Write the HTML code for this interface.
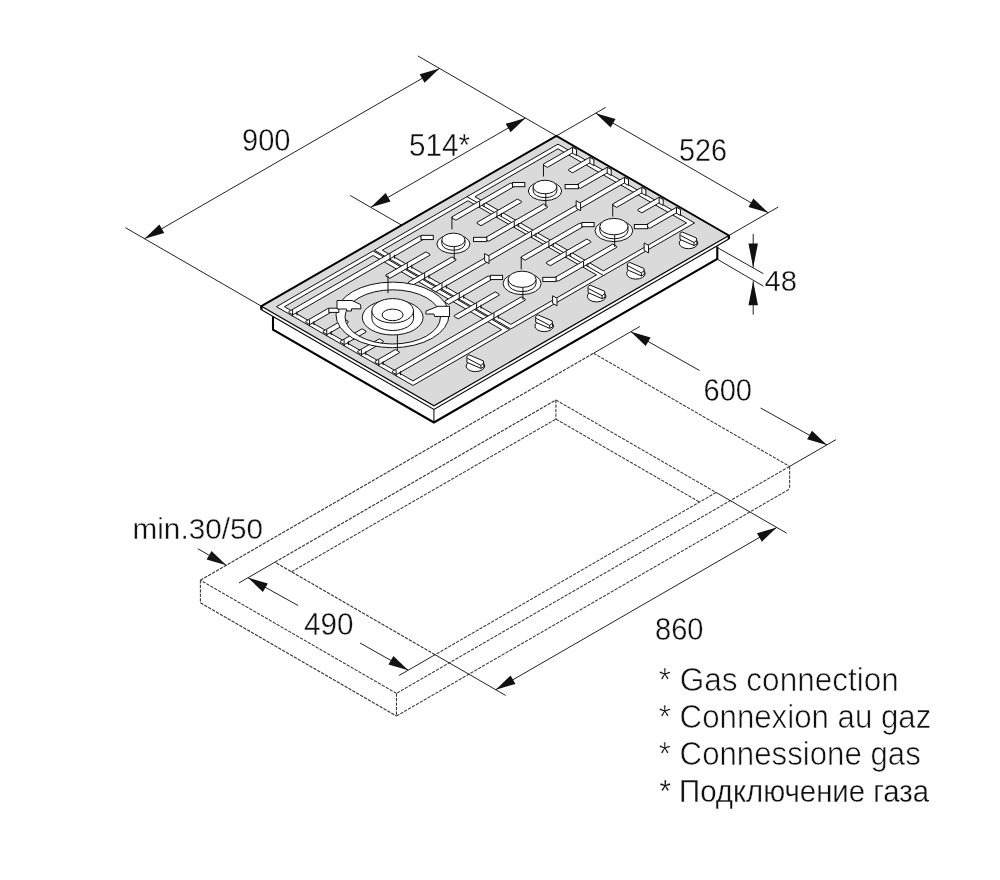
<!DOCTYPE html>
<html><head><meta charset="utf-8"><style>
html,body{margin:0;padding:0;background:#fff;width:1000px;height:880px;overflow:hidden}
svg{display:block;will-change:transform}
text{font-family:"Liberation Sans",sans-serif;fill:#111}
.lg{position:absolute;left:659px;font-family:"Liberation Sans",sans-serif;font-size:29px;color:#1a1a1a;white-space:nowrap}
</style></head><body>
<svg width="1000" height="880" viewBox="0 0 1000 880">
<line x1="200.4" y1="580.2" x2="593.58" y2="353.2" stroke="#333" stroke-width="1.05" stroke-linecap="butt" stroke-dasharray="3.3,1.2"/>
<line x1="593.58" y1="353.2" x2="789.64" y2="466.4" stroke="#333" stroke-width="1.05" stroke-linecap="butt" stroke-dasharray="3.3,1.2"/>
<line x1="789.64" y1="466.4" x2="396.47" y2="693.4" stroke="#333" stroke-width="1.05" stroke-linecap="butt" stroke-dasharray="3.3,1.2"/>
<line x1="396.47" y1="693.4" x2="200.4" y2="580.2" stroke="#333" stroke-width="1.05" stroke-linecap="butt" stroke-dasharray="3.3,1.2"/>
<line x1="200.4" y1="580.2" x2="200.4" y2="602.8" stroke="#333" stroke-width="1.05" stroke-linecap="butt" stroke-dasharray="3.3,1.2"/>
<line x1="396.47" y1="693.4" x2="396.47" y2="716" stroke="#333" stroke-width="1.05" stroke-linecap="butt" stroke-dasharray="3.3,1.2"/>
<line x1="789.64" y1="466.4" x2="789.64" y2="489" stroke="#333" stroke-width="1.05" stroke-linecap="butt" stroke-dasharray="3.3,1.2"/>
<line x1="200.4" y1="602.8" x2="396.47" y2="716" stroke="#333" stroke-width="1.05" stroke-linecap="butt" stroke-dasharray="3.3,1.2"/>
<line x1="396.47" y1="716" x2="789.64" y2="489" stroke="#333" stroke-width="1.05" stroke-linecap="butt" stroke-dasharray="3.3,1.2"/>
<line x1="274.88" y1="562.2" x2="555.9" y2="399.95" stroke="#333" stroke-width="1.05" stroke-linecap="butt" stroke-dasharray="3.3,1.2"/>
<line x1="555.9" y1="399.95" x2="716.12" y2="492.45" stroke="#333" stroke-width="1.05" stroke-linecap="butt" stroke-dasharray="3.3,1.2"/>
<line x1="716.12" y1="492.45" x2="435.09" y2="654.7" stroke="#333" stroke-width="1.05" stroke-linecap="butt" stroke-dasharray="3.3,1.2"/>
<line x1="435.09" y1="654.7" x2="274.88" y2="562.2" stroke="#333" stroke-width="1.05" stroke-linecap="butt" stroke-dasharray="3.3,1.2"/>
<line x1="555.9" y1="399.95" x2="555.9" y2="419.15" stroke="#333" stroke-width="1.05" stroke-linecap="butt" stroke-dasharray="3.3,1.2"/>
<line x1="291.51" y1="571.8" x2="555.9" y2="419.15" stroke="#333" stroke-width="1.05" stroke-linecap="butt" stroke-dasharray="3.3,1.2"/>
<line x1="555.9" y1="419.15" x2="699.49" y2="502.05" stroke="#333" stroke-width="1.05" stroke-linecap="butt" stroke-dasharray="3.3,1.2"/>
<line x1="593.58" y1="353.2" x2="639.91" y2="326.45" stroke="#222" stroke-width="1" stroke-linecap="butt"/>
<line x1="789.64" y1="466.4" x2="835.98" y2="439.65" stroke="#222" stroke-width="1" stroke-linecap="butt"/>
<line x1="630.81" y1="331.7" x2="699.5" y2="370.5" stroke="#222" stroke-width="1" stroke-linecap="butt"/>
<line x1="760.6" y1="408" x2="826.88" y2="444.9" stroke="#222" stroke-width="1" stroke-linecap="butt"/>
<polygon points="630.81,331.7 645.69,345.94 650.59,337.46" fill="#111"/>
<polygon points="826.88,444.9 812.01,430.66 807.11,439.14" fill="#111"/>
<text x="703.5" y="400.9" font-size="31" text-anchor="start" font-weight="normal" textLength="48.5" lengthAdjust="spacingAndGlyphs" stroke="#fff" stroke-width="0.35">600</text>
<line x1="274.88" y1="562.2" x2="238.94" y2="582.95" stroke="#222" stroke-width="1" stroke-linecap="butt"/>
<line x1="435.09" y1="654.7" x2="399.15" y2="675.45" stroke="#222" stroke-width="1" stroke-linecap="butt"/>
<line x1="248.03" y1="577.7" x2="298" y2="605.5" stroke="#222" stroke-width="1" stroke-linecap="butt"/>
<line x1="360" y1="643" x2="408.25" y2="670.2" stroke="#222" stroke-width="1" stroke-linecap="butt"/>
<polygon points="248.03,577.7 262.9,591.94 267.8,583.46" fill="#111"/>
<polygon points="408.25,670.2 393.38,655.96 388.48,664.44" fill="#111"/>
<text x="304" y="635.1" font-size="31" text-anchor="start" font-weight="normal" textLength="49.5" lengthAdjust="spacingAndGlyphs" stroke="#fff" stroke-width="0.35">490</text>
<line x1="716.12" y1="492.45" x2="786.7" y2="533.2" stroke="#222" stroke-width="1" stroke-linecap="butt"/>
<line x1="435.09" y1="654.7" x2="505.67" y2="695.45" stroke="#222" stroke-width="1" stroke-linecap="butt"/>
<line x1="495.71" y1="689.7" x2="776.74" y2="527.45" stroke="#222" stroke-width="1" stroke-linecap="butt"/>
<polygon points="495.71,689.7 515.49,683.94 510.59,675.46" fill="#111"/>
<polygon points="776.74,527.45 756.97,533.21 761.87,541.69" fill="#111"/>
<text x="655" y="639.5" font-size="31" text-anchor="start" font-weight="normal" textLength="48.5" lengthAdjust="spacingAndGlyphs" stroke="#fff" stroke-width="0.35">860</text>
<polygon points="226.38,565.2 211.51,550.96 206.61,559.44" fill="#111"/>
<line x1="226.38" y1="565.2" x2="197.8" y2="548.7" stroke="#222" stroke-width="1" stroke-linecap="butt"/>
<text x="132.5" y="538.8" font-size="29.5" text-anchor="start" font-weight="normal" textLength="130.5" lengthAdjust="spacingAndGlyphs" stroke="#fff" stroke-width="0.35">min.30/50</text>
<line x1="261.4" y1="306.2" x2="125.43" y2="227.7" stroke="#222" stroke-width="1" stroke-linecap="butt"/>
<line x1="556.37" y1="135.9" x2="417.8" y2="55.9" stroke="#222" stroke-width="1" stroke-linecap="butt"/>
<line x1="144.49" y1="238.7" x2="439.45" y2="68.4" stroke="#222" stroke-width="1" stroke-linecap="butt"/>
<polygon points="144.49,238.7 164.26,232.94 159.36,224.46" fill="#111"/>
<polygon points="439.45,68.4 419.68,74.16 424.58,82.64" fill="#111"/>
<text x="242" y="150.7" font-size="31" text-anchor="start" font-weight="normal" textLength="48.5" lengthAdjust="spacingAndGlyphs" stroke="#fff" stroke-width="0.35">900</text>
<line x1="401.7" y1="225.2" x2="350.17" y2="195.45" stroke="#222" stroke-width="1" stroke-linecap="butt"/>
<line x1="370.78" y1="207.35" x2="525.45" y2="118.05" stroke="#222" stroke-width="1" stroke-linecap="butt"/>
<polygon points="370.78,207.35 390.55,201.59 385.65,193.11" fill="#111"/>
<polygon points="525.45,118.05 505.68,123.81 510.58,132.29" fill="#111"/>
<text x="409" y="155.9" font-size="31" text-anchor="start" font-weight="normal" textLength="61" lengthAdjust="spacingAndGlyphs" stroke="#fff" stroke-width="0.35">514*</text>
<line x1="556.37" y1="135.9" x2="605.73" y2="107.4" stroke="#222" stroke-width="1" stroke-linecap="butt"/>
<line x1="728.88" y1="235.5" x2="778.24" y2="207" stroke="#222" stroke-width="1" stroke-linecap="butt"/>
<line x1="595.77" y1="113.15" x2="768.28" y2="212.75" stroke="#222" stroke-width="1" stroke-linecap="butt"/>
<polygon points="595.77,113.15 610.64,127.39 615.54,118.91" fill="#111"/>
<polygon points="768.28,212.75 753.41,198.51 748.51,206.99" fill="#111"/>
<text x="679" y="160.5" font-size="31" text-anchor="start" font-weight="normal" textLength="48" lengthAdjust="spacingAndGlyphs" stroke="#fff" stroke-width="0.35">526</text>
<line x1="717.5" y1="247.7" x2="763.4" y2="273.7" stroke="#222" stroke-width="1" stroke-linecap="butt"/>
<line x1="717.5" y1="259.3" x2="763.4" y2="286.2" stroke="#222" stroke-width="1" stroke-linecap="butt"/>
<line x1="753.2" y1="234" x2="753.2" y2="267.5" stroke="#222" stroke-width="1" stroke-linecap="butt"/>
<line x1="753.2" y1="281.2" x2="753.2" y2="314.6" stroke="#222" stroke-width="1" stroke-linecap="butt"/>
<polygon points="753.2,267.5 757.95,243.5 748.45,243.5" fill="#111"/>
<polygon points="753.2,281.2 748.45,305.2 757.95,305.2" fill="#111"/>
<text x="764.5" y="290.9" font-size="30" text-anchor="start" font-weight="normal" textLength="32.5" lengthAdjust="spacingAndGlyphs" stroke="#fff" stroke-width="0.35">48</text>
<polygon points="273,312 273,329.6 433.91,422.5 717.28,258.9 717.28,244 434,400" fill="#fff" stroke="none" stroke-width="1" stroke-linejoin="miter"/>
<polyline points="273,316.5 273,329.6 433.91,422.5 717.28,258.9 717.28,246.5" fill="none" stroke="#000" stroke-width="2.1" stroke-linejoin="miter"/>
<line x1="433.91" y1="409.3" x2="433.91" y2="422.5" stroke="#000" stroke-width="1" stroke-linecap="butt"/>
<polygon points="261.4,306.2 433.91,405.8 728.88,235.5 728.88,239.1 433.91,409.4 261.4,309.8" fill="#fff" stroke="none" stroke-width="1" stroke-linejoin="miter"/>
<polyline points="261.4,309.8 433.91,409.4 728.88,239.1" fill="none" stroke="#000" stroke-width="1.1" stroke-linejoin="miter"/>
<polygon points="261.4,306.2 556.37,135.9 728.88,235.5 433.91,405.8" fill="#dadada" stroke="none" stroke-width="1" stroke-linejoin="miter"/>
<polyline points="261.4,306.2 433.91,405.8 728.88,235.5" fill="none" stroke="#000" stroke-width="1.2" stroke-linejoin="miter"/>
<polyline points="261.4,306.2 556.37,135.9 728.88,235.5" fill="none" stroke="#000" stroke-width="2.0" stroke-linejoin="miter" stroke-linecap="round"/>
<line x1="261.4" y1="306.2" x2="261.4" y2="309.8" stroke="#000" stroke-width="2.4" stroke-linecap="butt"/>
<line x1="728.88" y1="235.5" x2="728.88" y2="239.1" stroke="#000" stroke-width="2.4" stroke-linecap="butt"/>
<path d="M276.47,306.7 L373.12,250.9 L509.6,329.7 L412.95,385.5 Z M412.95,380.9 L501.64,329.7 L373.12,255.5 L284.44,306.7 Z" fill="#fff" fill-rule="evenodd" stroke="#111" stroke-width="1.0"/>
<path d="M374.33,250.2 L467.95,196.15 L604.43,274.95 L510.82,329 Z M510.82,324.4 L596.47,274.95 L467.95,200.75 L382.3,250.2 Z" fill="#fff" fill-rule="evenodd" stroke="#111" stroke-width="1.0"/>
<path d="M466.99,196.7 L558.01,144.15 L694.5,222.95 L603.48,275.5 Z M603.48,270.9 L686.53,222.95 L558.01,148.75 L474.96,196.7 Z" fill="#fff" fill-rule="evenodd" stroke="#111" stroke-width="1.0"/>
<polygon points="305.74,321.3 327.82,308.55 331.81,310.85 331.81,311.85 309.72,324.6 305.74,322.3" fill="#fff" stroke="#111" stroke-width="1.0"/>
<polygon points="323.06,331.3 344.28,319.05 348.26,321.35 348.26,322.35 327.04,334.6 323.06,332.3" fill="#fff" stroke="#111" stroke-width="1.0"/>
<polygon points="340.38,341.3 362.03,328.8 366.02,331.1 366.02,332.1 344.37,344.6 340.38,342.3" fill="#fff" stroke="#111" stroke-width="1.0"/>
<polygon points="357.7,351.3 379.35,338.8 383.34,341.1 383.34,342.1 361.69,354.6 357.7,352.3" fill="#fff" stroke="#111" stroke-width="1.0"/>
<polygon points="375.02,361.3 395.37,349.55 399.36,351.85 399.36,352.85 379.01,364.6 375.02,362.3" fill="#fff" stroke="#111" stroke-width="1.0"/>
<polygon points="288.85,311.55 419.45,236.15 423.43,238.45 423.43,239.45 292.84,314.85 288.85,312.55" fill="#fff" stroke="#111" stroke-width="1.0"/>
<polygon points="392.34,371.3 521.21,296.9 525.19,299.2 525.19,300.2 396.33,374.6 392.34,372.3" fill="#fff" stroke="#111" stroke-width="1.0"/>
<polygon points="385.85,275.05 425.94,251.9 429.93,254.2 429.93,255.2 389.83,278.35 385.85,276.05" fill="#fff" stroke="#111" stroke-width="1.0"/>
<polygon points="408.36,282.05 451.93,256.9 455.91,259.2 455.91,260.2 412.35,285.35 408.36,283.05" fill="#fff" stroke="#111" stroke-width="1.0"/>
<polygon points="431.75,288.55 624.52,177.25 628.51,179.55 628.51,180.55 435.73,291.85 431.75,289.55" fill="#fff" stroke="#111" stroke-width="1.0"/>
<polygon points="624.52,177.25 628.51,179.55 628.51,185.55 624.52,183.25" fill="#fff" stroke="#111" stroke-width="1.0"/>
<polygon points="444.74,301.05 488.3,275.9 492.28,278.2 492.28,279.2 448.72,304.35 444.74,302.05" fill="#fff" stroke="#111" stroke-width="1.0"/>
<polygon points="454.26,315.55 495.23,291.9 499.21,294.2 499.21,295.2 458.25,318.85 454.26,316.55" fill="#fff" stroke="#111" stroke-width="1.0"/>
<polygon points="451.93,216.9 510.56,183.05 514.54,185.35 514.54,186.35 455.91,220.2 451.93,217.9" fill="#fff" stroke="#111" stroke-width="1.0"/>
<polygon points="477.04,222.4 517.48,199.05 521.47,201.35 521.47,202.35 481.02,225.7 477.04,223.4" fill="#fff" stroke="#111" stroke-width="1.0"/>
<polygon points="484.83,237.9 543.46,204.05 547.45,206.35 547.45,207.35 488.82,241.2 484.83,238.9" fill="#fff" stroke="#111" stroke-width="1.0"/>
<polygon points="521.21,256.9 579.84,223.05 583.82,225.35 583.82,226.35 525.19,260.2 521.21,257.9" fill="#fff" stroke="#111" stroke-width="1.0"/>
<polygon points="546.32,262.4 586.77,239.05 590.75,241.35 590.75,242.35 550.31,265.7 546.32,263.4" fill="#fff" stroke="#111" stroke-width="1.0"/>
<polygon points="554.12,277.9 612.75,244.05 616.73,246.35 616.73,247.35 558.1,281.2 554.12,278.9" fill="#fff" stroke="#111" stroke-width="1.0"/>
<polygon points="543.46,164.05 572.56,147.25 576.55,149.55 576.55,150.55 547.45,167.35 543.46,165.05" fill="#fff" stroke="#111" stroke-width="1.0"/>
<polygon points="572.56,147.25 576.55,149.55 576.55,155.55 572.56,153.25" fill="#fff" stroke="#111" stroke-width="1.0"/>
<polygon points="568.58,169.55 589.88,157.25 593.87,159.55 593.87,160.55 572.56,172.85 568.58,170.55" fill="#fff" stroke="#111" stroke-width="1.0"/>
<polygon points="589.88,157.25 593.87,159.55 593.87,165.55 589.88,163.25" fill="#fff" stroke="#111" stroke-width="1.0"/>
<polygon points="576.37,185.05 607.2,167.25 611.19,169.55 611.19,170.55 580.36,188.35 576.37,186.05" fill="#fff" stroke="#111" stroke-width="1.0"/>
<polygon points="607.2,167.25 611.19,169.55 611.19,175.55 607.2,173.25" fill="#fff" stroke="#111" stroke-width="1.0"/>
<polygon points="612.75,204.05 641.84,187.25 645.83,189.55 645.83,190.55 616.73,207.35 612.75,205.05" fill="#fff" stroke="#111" stroke-width="1.0"/>
<polygon points="641.84,187.25 645.83,189.55 645.83,195.55 641.84,193.25" fill="#fff" stroke="#111" stroke-width="1.0"/>
<polygon points="637.86,209.55 659.17,197.25 663.15,199.55 663.15,200.55 641.84,212.85 637.86,210.55" fill="#fff" stroke="#111" stroke-width="1.0"/>
<polygon points="659.17,197.25 663.15,199.55 663.15,205.55 659.17,203.25" fill="#fff" stroke="#111" stroke-width="1.0"/>
<polygon points="645.66,225.05 676.49,207.25 680.47,209.55 680.47,210.55 649.64,228.35 645.66,226.05" fill="#fff" stroke="#111" stroke-width="1.0"/>
<polygon points="676.49,207.25 680.47,209.55 680.47,215.55 676.49,213.25" fill="#fff" stroke="#111" stroke-width="1.0"/>
<line x1="390" y1="253.15" x2="390" y2="259.65" stroke="#111" stroke-width="1.0"/>
<line x1="394.42" y1="254.7" x2="394.42" y2="258.7" stroke="#111" stroke-width="1.0"/>
<line x1="407.33" y1="263.15" x2="407.33" y2="269.65" stroke="#111" stroke-width="1.0"/>
<line x1="411.74" y1="264.7" x2="411.74" y2="268.7" stroke="#111" stroke-width="1.0"/>
<line x1="424.65" y1="273.15" x2="424.65" y2="279.65" stroke="#111" stroke-width="1.0"/>
<line x1="429.06" y1="274.7" x2="429.06" y2="278.7" stroke="#111" stroke-width="1.0"/>
<line x1="441.97" y1="283.15" x2="441.97" y2="289.65" stroke="#111" stroke-width="1.0"/>
<line x1="446.38" y1="284.7" x2="446.38" y2="288.7" stroke="#111" stroke-width="1.0"/>
<line x1="459.29" y1="293.15" x2="459.29" y2="299.65" stroke="#111" stroke-width="1.0"/>
<line x1="463.7" y1="294.7" x2="463.7" y2="298.7" stroke="#111" stroke-width="1.0"/>
<line x1="476.61" y1="303.15" x2="476.61" y2="309.65" stroke="#111" stroke-width="1.0"/>
<line x1="481.02" y1="304.7" x2="481.02" y2="308.7" stroke="#111" stroke-width="1.0"/>
<line x1="493.93" y1="313.15" x2="493.93" y2="319.65" stroke="#111" stroke-width="1.0"/>
<line x1="498.34" y1="314.7" x2="498.34" y2="318.7" stroke="#111" stroke-width="1.0"/>
<line x1="479.64" y1="201.4" x2="479.64" y2="207.9" stroke="#111" stroke-width="1.0"/>
<line x1="484.06" y1="202.95" x2="484.06" y2="206.95" stroke="#111" stroke-width="1.0"/>
<line x1="496.96" y1="211.4" x2="496.96" y2="217.9" stroke="#111" stroke-width="1.0"/>
<line x1="501.38" y1="212.95" x2="501.38" y2="216.95" stroke="#111" stroke-width="1.0"/>
<line x1="514.28" y1="221.4" x2="514.28" y2="227.9" stroke="#111" stroke-width="1.0"/>
<line x1="518.7" y1="222.95" x2="518.7" y2="226.95" stroke="#111" stroke-width="1.0"/>
<line x1="531.6" y1="231.4" x2="531.6" y2="237.9" stroke="#111" stroke-width="1.0"/>
<line x1="536.02" y1="232.95" x2="536.02" y2="236.95" stroke="#111" stroke-width="1.0"/>
<line x1="548.92" y1="241.4" x2="548.92" y2="247.9" stroke="#111" stroke-width="1.0"/>
<line x1="553.34" y1="242.95" x2="553.34" y2="246.95" stroke="#111" stroke-width="1.0"/>
<line x1="566.24" y1="251.4" x2="566.24" y2="257.9" stroke="#111" stroke-width="1.0"/>
<line x1="570.66" y1="252.95" x2="570.66" y2="256.95" stroke="#111" stroke-width="1.0"/>
<line x1="583.56" y1="261.4" x2="583.56" y2="267.9" stroke="#111" stroke-width="1.0"/>
<line x1="587.98" y1="262.95" x2="587.98" y2="266.95" stroke="#111" stroke-width="1.0"/>
<line x1="292.58" y1="309.9" x2="292.58" y2="316.4" stroke="#111" stroke-width="1.0"/>
<line x1="296.99" y1="311.45" x2="296.99" y2="315.45" stroke="#111" stroke-width="1.0"/>
<line x1="309.46" y1="319.65" x2="309.46" y2="326.15" stroke="#111" stroke-width="1.0"/>
<line x1="313.88" y1="321.2" x2="313.88" y2="325.2" stroke="#111" stroke-width="1.0"/>
<line x1="326.78" y1="329.65" x2="326.78" y2="336.15" stroke="#111" stroke-width="1.0"/>
<line x1="331.2" y1="331.2" x2="331.2" y2="335.2" stroke="#111" stroke-width="1.0"/>
<line x1="344.11" y1="339.65" x2="344.11" y2="346.15" stroke="#111" stroke-width="1.0"/>
<line x1="348.52" y1="341.2" x2="348.52" y2="345.2" stroke="#111" stroke-width="1.0"/>
<line x1="361.43" y1="349.65" x2="361.43" y2="356.15" stroke="#111" stroke-width="1.0"/>
<line x1="365.84" y1="351.2" x2="365.84" y2="355.2" stroke="#111" stroke-width="1.0"/>
<line x1="378.75" y1="359.65" x2="378.75" y2="366.15" stroke="#111" stroke-width="1.0"/>
<line x1="383.16" y1="361.2" x2="383.16" y2="365.2" stroke="#111" stroke-width="1.0"/>
<line x1="396.07" y1="369.65" x2="396.07" y2="376.15" stroke="#111" stroke-width="1.0"/>
<line x1="400.48" y1="371.2" x2="400.48" y2="375.2" stroke="#111" stroke-width="1.0"/>
<polygon points="484.63,253.55 489.03,256.05 489.03,263.55 484.63,261.05" fill="#fff" stroke="#111" stroke-width="1.0"/>
<polygon points="576.17,200.7 580.57,203.2 580.57,210.7 576.17,208.2" fill="#fff" stroke="#111" stroke-width="1.0"/>
<polygon points="552.61,295.8 557.01,298.3 557.01,305.8 552.61,303.3" fill="#fff" stroke="#111" stroke-width="1.0"/>
<polygon points="644.15,242.95 648.55,245.45 648.55,252.95 644.15,250.45" fill="#fff" stroke="#111" stroke-width="1.0"/>
<rect x="421.01" y="235.35" width="12.3" height="4.2" fill="#fff" stroke="#111" stroke-width="1.0"/>
<rect x="473.53" y="237.35" width="13.3" height="4.2" fill="#fff" stroke="#111" stroke-width="1.0"/>
<line x1="451.93" y1="216.9" x2="451.93" y2="229.4" stroke="#111" stroke-width="1.0"/>
<rect x="490.29" y="275.35" width="12.3" height="4.2" fill="#fff" stroke="#111" stroke-width="1.0"/>
<rect x="542.81" y="277.35" width="13.3" height="4.2" fill="#fff" stroke="#111" stroke-width="1.0"/>
<line x1="521.21" y1="256.9" x2="521.21" y2="269.4" stroke="#111" stroke-width="1.0"/>
<rect x="512.55" y="182.5" width="12.3" height="4.2" fill="#fff" stroke="#111" stroke-width="1.0"/>
<rect x="565.07" y="184.5" width="13.3" height="4.2" fill="#fff" stroke="#111" stroke-width="1.0"/>
<line x1="543.46" y1="164.05" x2="543.46" y2="176.55" stroke="#111" stroke-width="1.0"/>
<rect x="581.83" y="222.5" width="12.3" height="4.2" fill="#fff" stroke="#111" stroke-width="1.0"/>
<rect x="634.35" y="224.5" width="13.3" height="4.2" fill="#fff" stroke="#111" stroke-width="1.0"/>
<line x1="612.75" y1="204.05" x2="612.75" y2="216.55" stroke="#111" stroke-width="1.0"/>
<path d="M336,314.9 A56.5,32.8 0 1 0 449,314.9 A56.5,32.8 0 1 0 336,314.9 Z M345,316.9 A47.75,27.1 0 1 1 440.5,316.9 A47.75,27.1 0 1 1 345,316.9 Z" fill="#fff" fill-rule="evenodd" stroke="#111" stroke-width="1.0"/>
<rect x="328.82" y="308.2" width="10" height="4.2" fill="#fff" stroke="#111" stroke-width="1.0"/>
<polygon points="337,300.5 352,300.5 360.5,304.5 361,308.8 351.5,308.8 351.5,311 347,311 346.5,309 337,309" fill="#fff" stroke="#111" stroke-width="1.0"/>
<polygon points="449.5,306.3 438,306.3 426,311 425.8,314 434,314 434.5,316.5 449.5,316.5" fill="#fff" stroke="#111" stroke-width="1.0"/>
<line x1="388" y1="275.5" x2="388" y2="293.2" stroke="#111" stroke-width="1.0"/>
<line x1="397.4" y1="332.5" x2="397.4" y2="350.2" stroke="#111" stroke-width="1.0"/>
<ellipse cx="453.4" cy="243.97" rx="16.5" ry="9.53" fill="#fff" stroke="#111" stroke-width="1.0"/>
<path d="M441.8,239.9 L441.8,243.5 A11.6,6.75 0 0 0 465,243.5 L465,239.9 Z" fill="#fff" stroke="#111" stroke-width="1.0"/>
<ellipse cx="453.4" cy="239.9" rx="11.6" ry="6.75" fill="#fff" stroke="#111" stroke-width="1.0"/>
<ellipse cx="522.1" cy="283.6" rx="19.05" ry="11" fill="#fff" stroke="#111" stroke-width="1.0"/>
<path d="M508.15,279.3 L508.15,283.5 A13.95,8.1 0 0 0 536.05,283.5 L536.05,279.3 Z" fill="#fff" stroke="#111" stroke-width="1.0"/>
<ellipse cx="522.1" cy="279.3" rx="13.95" ry="8.1" fill="#fff" stroke="#111" stroke-width="1.0"/>
<ellipse cx="545" cy="190.99" rx="16.65" ry="9.61" fill="#fff" stroke="#111" stroke-width="1.0"/>
<path d="M533.15,187 L533.15,190.9 A11.85,6.75 0 0 0 556.85,190.9 L556.85,187 Z" fill="#fff" stroke="#111" stroke-width="1.0"/>
<ellipse cx="545" cy="187" rx="11.85" ry="6.75" fill="#fff" stroke="#111" stroke-width="1.0"/>
<ellipse cx="613.9" cy="230.69" rx="18.9" ry="10.91" fill="#fff" stroke="#111" stroke-width="1.0"/>
<path d="M599.8,226.6 L599.8,230.6 A14.1,8.2 0 0 0 628,230.6 L628,226.6 Z" fill="#fff" stroke="#111" stroke-width="1.0"/>
<ellipse cx="613.9" cy="226.6" rx="14.1" ry="8.2" fill="#fff" stroke="#111" stroke-width="1.0"/>
<ellipse cx="392.7" cy="317.45" rx="30.4" ry="17.55" fill="#fff" stroke="#111" stroke-width="1.0"/>
<path d="M371.9,310.8 L371.9,318.3 A20.8,12.2 0 0 0 413.5,318.3 L413.5,310.8 Z" fill="#fff" stroke="#111" stroke-width="1.0"/>
<ellipse cx="392.7" cy="310.8" rx="20.8" ry="12.2" fill="#fff" stroke="#111" stroke-width="1.0"/>
<ellipse cx="392.6" cy="314.9" rx="10.5" ry="5.8" fill="#fff" stroke="#111" stroke-width="1.0"/>
<line x1="454.2" y1="246.9" x2="454.2" y2="259.7" stroke="#111" stroke-width="1.0"/>
<line x1="522.9" y1="287.7" x2="522.9" y2="299.7" stroke="#111" stroke-width="1.0"/>
<line x1="545.8" y1="194" x2="545.8" y2="206.85" stroke="#111" stroke-width="1.0"/>
<line x1="614.7" y1="235.1" x2="614.7" y2="246.85" stroke="#111" stroke-width="1.0"/>
<ellipse cx="475.4" cy="366" rx="9.3" ry="5.6" fill="#fff" stroke="#111" stroke-width="1.0"/>
<polygon points="466.9,356.3 468.9,354.8 483.4,360.9 483.9,366.9 480.9,368.4 466.9,362.3" fill="#fff" stroke="#111" stroke-width="1.0"/>
<polyline points="467.4,358.3 480.9,365.4 483.9,362.9" fill="none" stroke="#111" stroke-width="1.0"/>
<line x1="480.9" y1="365.4" x2="480.9" y2="368.4" stroke="#111" stroke-width="1.0"/>
<ellipse cx="544.2" cy="326" rx="9.3" ry="5.6" fill="#fff" stroke="#111" stroke-width="1.0"/>
<polygon points="535.7,316.3 537.7,314.8 552.2,320.9 552.7,326.9 549.7,328.4 535.7,322.3" fill="#fff" stroke="#111" stroke-width="1.0"/>
<polyline points="536.2,318.3 549.7,325.4 552.7,322.9" fill="none" stroke="#111" stroke-width="1.0"/>
<line x1="549.7" y1="325.4" x2="549.7" y2="328.4" stroke="#111" stroke-width="1.0"/>
<ellipse cx="596.6" cy="296.3" rx="9.3" ry="5.6" fill="#fff" stroke="#111" stroke-width="1.0"/>
<polygon points="588.1,286.6 590.1,285.1 604.6,291.2 605.1,297.2 602.1,298.7 588.1,292.6" fill="#fff" stroke="#111" stroke-width="1.0"/>
<polyline points="588.6,288.6 602.1,295.7 605.1,293.2" fill="none" stroke="#111" stroke-width="1.0"/>
<line x1="602.1" y1="295.7" x2="602.1" y2="298.7" stroke="#111" stroke-width="1.0"/>
<ellipse cx="635.9" cy="273.5" rx="9.3" ry="5.6" fill="#fff" stroke="#111" stroke-width="1.0"/>
<polygon points="627.4,263.8 629.4,262.3 643.9,268.4 644.4,274.4 641.4,275.9 627.4,269.8" fill="#fff" stroke="#111" stroke-width="1.0"/>
<polyline points="627.9,265.8 641.4,272.9 644.4,270.4" fill="none" stroke="#111" stroke-width="1.0"/>
<line x1="641.4" y1="272.9" x2="641.4" y2="275.9" stroke="#111" stroke-width="1.0"/>
<ellipse cx="688.5" cy="243.1" rx="9.3" ry="5.6" fill="#fff" stroke="#111" stroke-width="1.0"/>
<polygon points="680,233.4 682,231.9 696.5,238 697,244 694,245.5 680,239.4" fill="#fff" stroke="#111" stroke-width="1.0"/>
<polyline points="680.5,235.4 694,242.5 697,240" fill="none" stroke="#111" stroke-width="1.0"/>
<line x1="694" y1="242.5" x2="694" y2="245.5" stroke="#111" stroke-width="1.0"/>
<text x="658.8" y="691.4" font-size="32.5" text-anchor="start" font-weight="normal" stroke="#fff" stroke-width="0.6" textLength="240" lengthAdjust="spacingAndGlyphs">* Gas connection</text>
<text x="658.8" y="728.1" font-size="32.5" text-anchor="start" font-weight="normal" stroke="#fff" stroke-width="0.6" textLength="272.5" lengthAdjust="spacingAndGlyphs">* Connexion au gaz</text>
<text x="658.8" y="765.2" font-size="32.5" text-anchor="start" font-weight="normal" stroke="#fff" stroke-width="0.6" textLength="262" lengthAdjust="spacingAndGlyphs">* Connessione gas</text>
<text x="659.5" y="802.3" font-size="31.5" text-anchor="start" font-weight="normal" stroke="#fff" stroke-width="0.3" textLength="269.5" lengthAdjust="spacingAndGlyphs">* Подключение газа</text>
</svg>
</body></html>
